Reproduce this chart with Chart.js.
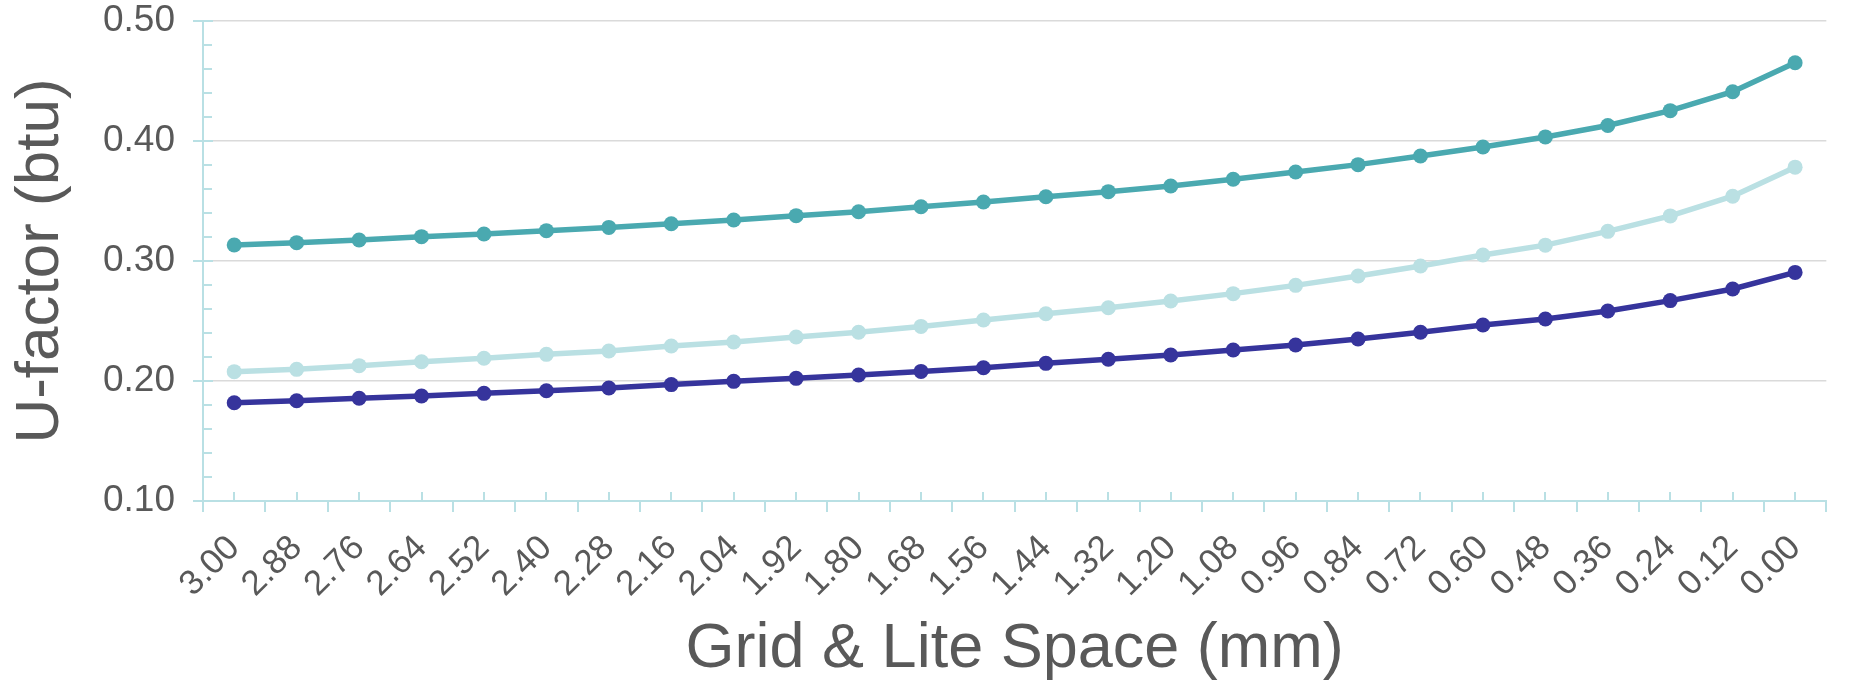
<!DOCTYPE html>
<html>
<head>
<meta charset="utf-8">
<style>
  html, body { margin: 0; padding: 0; background: #fff; }
  canvas { display: block; }
</style>
<script src="https://cdn.jsdelivr.net/npm/chart.js@4"></script>
</head>
<body>
<canvas id="uFactorChart" width="1849" height="687"></canvas>
<script>
const spaceLabels = ['3.00', '2.88', '2.76', '2.64', '2.52', '2.40', '2.28', '2.16', '2.04', '1.92',
  '1.80', '1.68', '1.56', '1.44', '1.32', '1.20', '1.08', '0.96', '0.84', '0.72',
  '0.60', '0.48', '0.36', '0.24', '0.12', '0.00'];

const upperSeries = [0.3133, 0.3153, 0.3175, 0.3203, 0.3225, 0.3253, 0.3280, 0.3310, 0.3342, 0.3378,
  0.3411, 0.3452, 0.3492, 0.3536, 0.3578, 0.3625, 0.3681, 0.3742, 0.3803, 0.3875,
  0.3950, 0.4034, 0.4129, 0.4253, 0.4411, 0.4652];
const middleSeries = [0.2078, 0.2097, 0.2128, 0.2161, 0.2189, 0.2222, 0.2250, 0.2292, 0.2325, 0.2367,
  0.2406, 0.2455, 0.2508, 0.2561, 0.2611, 0.2667, 0.2728, 0.2797, 0.2875, 0.2958,
  0.3050, 0.3132, 0.3247, 0.3376, 0.3540, 0.3782];
const lowerSeries = [0.1819, 0.1836, 0.1856, 0.1875, 0.1897, 0.1919, 0.1942, 0.1970, 0.1997, 0.2022,
  0.2050, 0.2080, 0.2111, 0.2147, 0.2181, 0.2217, 0.2258, 0.2300, 0.2350, 0.2406,
  0.2467, 0.2517, 0.2583, 0.2670, 0.2767, 0.2905];

const yMajorTicks = [0.10, 0.20, 0.30, 0.40, 0.50];
const yMinorTicks = [0.12, 0.14, 0.16, 0.18, 0.22, 0.24, 0.26, 0.28, 0.32, 0.34, 0.36, 0.38, 0.42, 0.44, 0.46, 0.48];

const axisColor = '#b9e0e4';
const textColor = '#595959';
const fontFamily = '"Liberation Sans", Arial, Helvetica, sans-serif';

// tick marks drawn by hand: the axes have inside/outside major and minor ticks
const axisTicks = {
  id: 'axisTicks',
  beforeDatasetsDraw(chart) {
    const ctx = chart.ctx;
    const x = chart.scales.x;
    const y = chart.scales.y;
    const left = chart.chartArea.left;
    const bottom = chart.chartArea.bottom;
    ctx.save();
    ctx.strokeStyle = axisColor;
    ctx.lineWidth = 2;
    ctx.beginPath();
    // y axis ticks
    yMajorTicks.forEach((v) => {
      const py = Math.round(y.getPixelForValue(v));
      ctx.moveTo(left - 10, py);
      ctx.lineTo(left + 10, py);
    });
    yMinorTicks.forEach((v) => {
      const py = Math.round(y.getPixelForValue(v));
      ctx.moveTo(left, py);
      ctx.lineTo(left + 9, py);
    });
    // x axis ticks: up at each point, down between categories
    const half = (x.getPixelForValue(1) - x.getPixelForValue(0)) / 2;
    for (let i = 0; i < spaceLabels.length; i++) {
      const px = Math.round(x.getPixelForValue(i));
      ctx.moveTo(px, bottom);
      ctx.lineTo(px, bottom - 9);
      const bx = Math.round(x.getPixelForValue(i) - half);
      ctx.moveTo(bx, bottom);
      ctx.lineTo(bx, bottom + 11);
    }
    const lastX = Math.round(x.getPixelForValue(spaceLabels.length - 1) + half);
    ctx.moveTo(lastX, bottom);
    ctx.lineTo(lastX, bottom + 11);
    ctx.stroke();
    ctx.restore();
  }
};

const lineStyle = (color) => ({
  borderColor: color,
  backgroundColor: color,
  pointBackgroundColor: color,
  pointBorderWidth: 0,
  pointRadius: 7.5,
  borderWidth: 5.5,
  tension: 0,
  fill: false,
});

new Chart(document.getElementById('uFactorChart'), {
  type: 'line',
  data: {
    labels: spaceLabels,
    datasets: [
      { label: 'Upper', data: upperSeries, ...lineStyle('#4aa9b0') },
      { label: 'Middle', data: middleSeries, ...lineStyle('#bae0e3') },
      { label: 'Lower', data: lowerSeries, ...lineStyle('#36349c') },
    ],
  },
  options: {
    responsive: false,
    animation: false,
    layout: { padding: { top: 21, right: 5, bottom: 0, left: 0 } },
    plugins: {
      legend: { display: false },
      tooltip: { enabled: false },
    },
    scales: {
      x: {
        type: 'category',
        offset: true,
        grid: { display: false, drawTicks: false },
        border: { display: true, color: axisColor, width: 2 },
        ticks: {
          minRotation: 45,
          maxRotation: 45,
          padding: 29,
          color: textColor,
          font: { family: fontFamily, size: 35, lineHeight: 1 },
        },
        title: {
          display: true,
          text: 'Grid & Lite Space (mm)',
          color: textColor,
          font: { family: fontFamily, size: 63, lineHeight: 1 },
          padding: { top: 0, bottom: 6 },
        },
        afterFit(scale) {
          scale.height = 186;
        },
      },
      y: {
        min: 0.1,
        max: 0.5,
        ticks: {
          stepSize: 0.1,
          padding: 0,
          color: textColor,
          font: { family: fontFamily, size: 37, lineHeight: 1 },
          callback: (v) => Number(v).toFixed(2),
        },
        grid: {
          drawTicks: true,
          tickLength: 28,
          tickColor: 'rgba(0,0,0,0)',
          lineWidth: 1.5,
          color: (c) => (c.index === 0 ? 'rgba(0,0,0,0)' : '#dadada'),
        },
        border: { display: true, color: axisColor, width: 2 },
        title: {
          display: true,
          text: 'U-factor (btu)',
          color: textColor,
          font: { family: fontFamily, size: 62, lineHeight: 1 },
          padding: { top: 10, bottom: 0 },
        },
        afterFit(scale) {
          scale.width = 203;
        },
      },
    },
  },
  plugins: [axisTicks],
});
</script>
</body>
</html>
